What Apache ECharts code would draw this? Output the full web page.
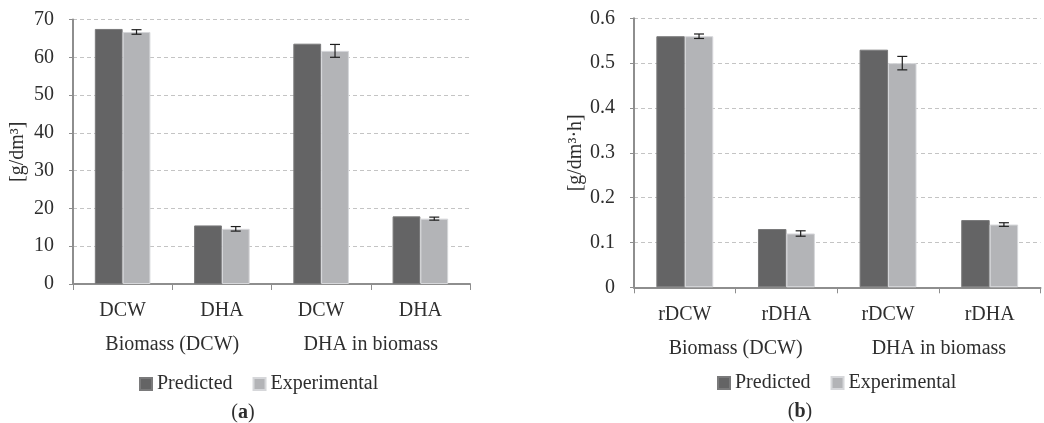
<!DOCTYPE html>
<html>
<head>
<meta charset="utf-8">
<script src="https://cdn.jsdelivr.net/npm/echarts@6/dist/echarts.min.js"></script>
<style>
  html, body { margin: 0; padding: 0; background: #fff; }
  #chart { width: 1044px; height: 423px; }
</style>
</head>
<body>
<div id="chart"></div>
<script>
// Panel (a): concentrations
const categoriesA = ['DCW', 'DHA', 'DCW', 'DHA'];
const groupsA = ['Biomass (DCW)', 'DHA in biomass'];
const predictedA = [67.5, 15.5, 63.6, 17.9];
const experimentalA = [66.7, 14.6, 61.7, 17.3];
const errorA = [0.6, 0.6, 1.7, 0.4];

// Panel (b): rates
const categoriesB = ['rDCW', 'rDHA', 'rDCW', 'rDHA'];
const groupsB = ['Biomass (DCW)', 'DHA in biomass'];
const predictedB = [0.56, 0.13, 0.53, 0.15];
const experimentalB = [0.56, 0.12, 0.50, 0.14];
const errorB = [0.005, 0.006, 0.015, 0.004];

const seriesNames = ['Predicted', 'Experimental'];

const FONT = 'Liberation Serif';
const FS = 20;
const TEXT = '#2e2e2e';
const DARK = '#646465';
const LIGHT = '#b3b4b7';
const AXIS = '#8e8e8e';
const BAR_GAP_CAT = 0.44;

const chart = echarts.init(document.getElementById('chart'));

function valueAxis(gridIndex, max, interval, name, gap) {
  return {
    type: 'value', gridIndex, min: 0, max, interval,
    name, nameLocation: 'middle', nameGap: gap,
    nameTextStyle: { fontFamily: FONT, fontSize: FS, color: TEXT },
    axisLine: { show: true, lineStyle: { color: AXIS, width: 2 } },
    axisTick: { show: true, length: 4, lineStyle: { color: AXIS, width: 1 } },
    axisLabel: { fontFamily: FONT, fontSize: FS, color: TEXT, margin: 19 },
    splitLine: { lineStyle: { color: '#c4c4c4', type: [4, 3], width: 1 } }
  };
}

function catAxis(gridIndex, data) {
  return {
    type: 'category', gridIndex, data,
    axisLine: { lineStyle: { color: AXIS, width: 2 } },
    axisTick: { show: true, length: 6, lineStyle: { color: AXIS, width: 1 } },
    axisLabel: { fontFamily: FONT, fontSize: FS, color: TEXT, margin: 17 }
  };
}

function groupAxis(gridIndex, data) {
  return {
    type: 'category', gridIndex, data, position: 'bottom', offset: 0,
    axisLine: { show: false }, axisTick: { show: false },
    axisLabel: { fontFamily: FONT, fontSize: FS, color: TEXT, margin: 51 }
  };
}

function barSeries(name, data, axisIdx, color, border) {
  return {
    type: 'bar', name, data,
    xAxisIndex: axisIdx.x, yAxisIndex: axisIdx.y,
    barGap: '0%', barCategoryGap: (BAR_GAP_CAT * 100) + '%',
    itemStyle: { color, borderColor: border, borderWidth: 1 },
    emphasis: { disabled: true }
  };
}

// error bars centred on the second (Experimental) bar of each category
function errorSeries(values, errors, axisIdx) {
  return {
    type: 'custom', name: 'error',
    xAxisIndex: axisIdx.x, yAxisIndex: axisIdx.y,
    data: values.map((v, i) => [i, v, errors[i]]),
    encode: { x: 0, y: 1 },
    z: 5,
    renderItem: function (params, api) {
      const i = api.value(0), v = api.value(1), e = api.value(2);
      const band = api.size([1, 0])[0];
      const off = band * (1 - BAR_GAP_CAT) / 4;
      const hi = api.coord([i, v + e]);
      const lo = api.coord([i, v - e]);
      const cx = hi[0] + off;
      const half = 5;
      const st = { stroke: '#1e1e1e', lineWidth: 1.2 };
      return {
        type: 'group',
        children: [
          { type: 'line', shape: { x1: cx, y1: hi[1], x2: cx, y2: lo[1] }, style: st },
          { type: 'line', shape: { x1: cx - half, y1: hi[1], x2: cx + half, y2: hi[1] }, style: st },
          { type: 'line', shape: { x1: cx - half, y1: lo[1], x2: cx + half, y2: lo[1] }, style: st }
        ]
      };
    }
  };
}

function legend(left, top) {
  return {
    data: seriesNames, left, top,
    itemWidth: 12, itemHeight: 12, itemGap: 20,
    icon: 'rect', selectedMode: false,
    textStyle: { fontFamily: FONT, fontSize: FS, color: TEXT, padding: [0, 0, 0, 0] }
  };
}

const option = {
  animation: false,
  color: [DARK, LIGHT],
  grid: [
    { left: 73, top: 19.5, width: 397, height: 264.5 },
    { left: 634, top: 18.3, width: 406.5, height: 269 }
  ],
  xAxis: [
    catAxis(0, categoriesA), groupAxis(0, groupsA),
    catAxis(1, categoriesB), groupAxis(1, groupsB)
  ],
  yAxis: [
    valueAxis(0, 70, 10, '[g/dm³]', 45),
    valueAxis(1, 0.6, 0.1, '[g/dm³·h]', 47)
  ],
  legend: [legend(134, 369), legend(712, 368)],
  series: [
    barSeries('Predicted', predictedA, { x: 0, y: 0 }, DARK, '#7a7a7b'),
    barSeries('Experimental', experimentalA, { x: 0, y: 0 }, LIGHT, '#d6d7da'),
    errorSeries(experimentalA, errorA, { x: 0, y: 0 }),
    barSeries('Predicted', predictedB, { x: 2, y: 1 }, DARK, '#7a7a7b'),
    barSeries('Experimental', experimentalB, { x: 2, y: 1 }, LIGHT, '#d6d7da'),
    errorSeries(experimentalB, errorB, { x: 2, y: 1 })
  ],
  graphic: [
    {
      type: 'text', x: 243, y: 413,
      style: {
        text: '({b|a})', align: 'center', verticalAlign: 'middle',
        fontFamily: FONT, fontSize: FS, fill: TEXT,
        rich: { b: { fontFamily: FONT, fontSize: FS, fontWeight: 'bold', color: TEXT } }
      }
    },
    {
      type: 'text', x: 800, y: 412,
      style: {
        text: '({b|b})', align: 'center', verticalAlign: 'middle',
        fontFamily: FONT, fontSize: FS, fill: TEXT,
        rich: { b: { fontFamily: FONT, fontSize: FS, fontWeight: 'bold', color: TEXT } }
      }
    }
  ]
};

chart.setOption(option);
</script>
</body>
</html>
